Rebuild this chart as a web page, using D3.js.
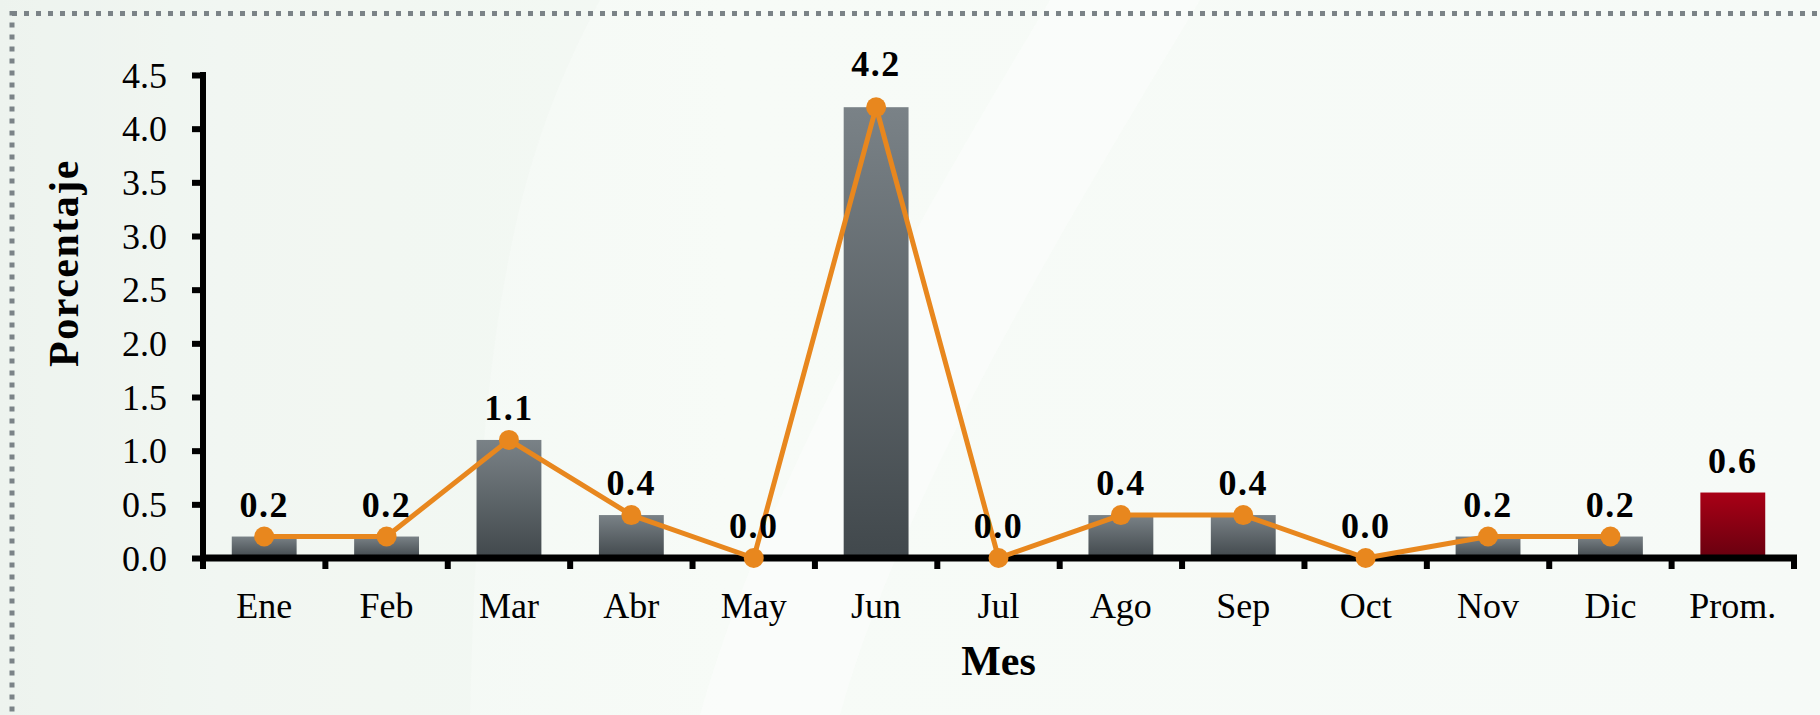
<!DOCTYPE html>
<html>
<head>
<meta charset="utf-8">
<script src="https://cdn.jsdelivr.net/npm/d3@7"></script>
<style>
  html, body { margin: 0; padding: 0; background: #f6faf6; }
  svg { display: block; }
</style>
</head>
<body>
<svg id="chart" width="1820" height="715"></svg>
<script>
// ---- data ----
const categories = ["Ene","Feb","Mar","Abr","May","Jun","Jul","Ago","Sep","Oct","Nov","Dic","Prom."];
const monthCategories = ["Ene","Feb","Mar","Abr","May","Jun","Jul","Ago","Sep","Oct","Nov","Dic"];
const barValues = [0.2, 0.2, 1.1, 0.4, 0.0, 4.2, 0.0, 0.4, 0.4, 0.0, 0.2, 0.2, 0.61];
const lineValues = [0.2, 0.2, 1.1, 0.4, 0.0, 4.2, 0.0, 0.4, 0.4, 0.0, 0.2, 0.2];
const labelValues = ["0.2","0.2","1.1","0.4","0.0","4.2","0.0","0.4","0.4","0.0","0.2","0.2","0.6"];
const yTicks = [0, 0.5, 1.0, 1.5, 2.0, 2.5, 3.0, 3.5, 4.0, 4.5];
const xTitle = "Mes";
const yTitle = "Porcentaje";

// ---- layout ----
const W = 1820, H = 715;
const plot = { left: 203, right: 1794, top: 75, bottom: 558 };
const svg = d3.select("#chart");
const defs = svg.append("defs");

// background
const bg = defs.append("linearGradient").attr("id","bg").attr("x1","0").attr("x2","1").attr("y1","0").attr("y2","0");
bg.append("stop").attr("offset","0").attr("stop-color","#edf3ef");
bg.append("stop").attr("offset","0.12").attr("stop-color","#f3f8f4");
bg.append("stop").attr("offset","0.4").attr("stop-color","#f7fbf7");
bg.append("stop").attr("offset","1").attr("stop-color","#f6faf7");
svg.append("rect").attr("width",W).attr("height",H).attr("fill","url(#bg)");
svg.append("path").attr("d","M700,715 C760,500 900,250 1050,0 L1200,0 C1050,250 900,500 840,715 Z").attr("fill","#fafdfa").attr("opacity",0.8);
svg.append("path").attr("d","M0,0 L600,0 C520,150 480,300 470,715 L0,715 Z").attr("fill","#edf3ef").attr("opacity",0.35);

// dotted frame
svg.append("rect").attr("x",12).attr("y",13.5).attr("width",W+20).attr("height",H+20)
  .attr("fill","none").attr("stroke","#7b8387").attr("stroke-width",5).attr("stroke-dasharray","5 7");

// gradients for bars
const gGray = defs.append("linearGradient").attr("id","gGray").attr("x1","0").attr("x2","0").attr("y1","0").attr("y2","1");
gGray.append("stop").attr("offset","0").attr("stop-color","#7a8287");
gGray.append("stop").attr("offset","1").attr("stop-color","#41484c");
const gRed = defs.append("linearGradient").attr("id","gRed").attr("x1","0").attr("x2","0").attr("y1","0").attr("y2","1");
gRed.append("stop").attr("offset","0").attr("stop-color","#a90016");
gRed.append("stop").attr("offset","1").attr("stop-color","#68000f");

// scales
const x = d3.scaleBand().domain(categories).range([plot.left, plot.right]).padding(0);
const barFrac = 0.53;
const y = d3.scaleLinear().domain([0, 4.5]).range([plot.bottom, plot.top]);
const cx = c => x(c) + x.bandwidth() / 2;

// bars
svg.append("g").selectAll("rect").data(categories).join("rect")
  .attr("x", c => cx(c) - x.bandwidth() * barFrac / 2)
  .attr("width", x.bandwidth() * barFrac)
  .attr("y", (c, i) => y(barValues[i]))
  .attr("height", (c, i) => y(0) - y(barValues[i]))
  .attr("fill", c => c === "Prom." ? "url(#gRed)" : "url(#gGray)");

// y axis
const yAxis = d3.axisLeft(y).tickValues(yTicks).tickFormat(d3.format(".1f")).tickSize(11).tickPadding(25);
const gy = svg.append("g").attr("transform", `translate(${plot.left},0)`).call(yAxis);
gy.select(".domain").remove();
gy.selectAll(".tick line").attr("stroke","#000").attr("stroke-width",6);
gy.selectAll(".tick text").attr("font-family","'Liberation Serif', serif").attr("font-size",36).attr("fill","#000").attr("dy","0.34em");
svg.append("line").attr("x1",plot.left).attr("x2",plot.left).attr("y1",plot.top-3).attr("y2",plot.bottom+4)
  .attr("stroke","#000").attr("stroke-width",6);

// x axis
svg.append("line").attr("x1",plot.left-3).attr("x2",plot.right+3).attr("y1",plot.bottom).attr("y2",plot.bottom)
  .attr("stroke","#000").attr("stroke-width",7);
const boundaries = categories.map(c => x(c)).concat([x(categories[categories.length-1]) + x.bandwidth()]);
svg.append("g").selectAll("line").data(boundaries).join("line")
  .attr("x1", d => d).attr("x2", d => d).attr("y1", plot.bottom).attr("y2", plot.bottom + 11)
  .attr("stroke","#000").attr("stroke-width",6);
svg.append("g").selectAll("text").data(categories).join("text")
  .attr("x", c => cx(c)).attr("y", 618)
  .attr("text-anchor","middle").attr("font-family","'Liberation Serif', serif").attr("font-size",36).attr("fill","#000")
  .text(c => c);

// line
const line = d3.line().x((d, i) => cx(monthCategories[i])).y(d => y(d));
svg.append("path").datum(lineValues).attr("d", line).attr("fill","none")
  .attr("stroke","#e8871e").attr("stroke-width",5).attr("stroke-linejoin","round");
svg.append("g").selectAll("circle").data(lineValues).join("circle")
  .attr("cx", (d, i) => cx(monthCategories[i])).attr("cy", d => y(d)).attr("r", 10).attr("fill","#e8871e");

// data labels (peak label sits higher, clear of the converging line)
const maxVal = d3.max(barValues);
svg.append("g").selectAll("text").data(categories).join("text")
  .attr("x", c => cx(c)).attr("y", (c, i) => y(barValues[i]) - (barValues[i] === maxVal ? 31 : 20))
  .attr("text-anchor","middle").attr("font-family","'Liberation Serif', serif").attr("font-weight","bold")
  .attr("font-size",36).attr("letter-spacing","1.5px").attr("fill","#000")
  .text((c, i) => labelValues[i]);

// titles
svg.append("text").attr("x", (plot.left + plot.right) / 2).attr("y", 675)
  .attr("text-anchor","middle").attr("font-family","'Liberation Serif', serif").attr("font-weight","bold")
  .attr("font-size",42).attr("fill","#000").text(xTitle);
svg.append("text").attr("transform","translate(78,263) rotate(-90)")
  .attr("text-anchor","middle").attr("font-family","'Liberation Serif', serif").attr("font-weight","bold")
  .attr("font-size",42).attr("letter-spacing","1.5px").attr("fill","#000").text(yTitle);
</script>
</body>
</html>
